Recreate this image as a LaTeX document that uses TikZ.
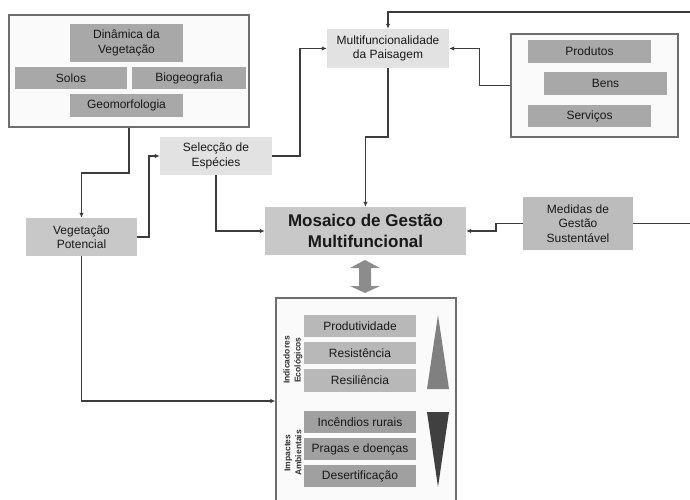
\documentclass[tikz,border=0pt]{standalone}
\usepackage{fontspec}
\setmainfont{Liberation Sans}
\usetikzlibrary{arrows.meta,positioning,calc}
\definecolor{boxlight}{HTML}{E2E2E2}
\definecolor{boxmid}{HTML}{C8C8C8}
\definecolor{boxdark}{HTML}{A8A8A8}
\definecolor{impgray}{HTML}{A0A0A0}
\definecolor{linegray}{HTML}{3C3C3C}
\definecolor{framegray}{HTML}{6E6E6E}

\begin{document}
\begin{tikzpicture}[x=1pt, y=-1pt,
      blk/.style={fill=boxmid, inner sep=1pt, align=center,
                  font=\fontsize{12}{14.5}\selectfont, text=black!90},
      lbox/.style={blk, fill=boxlight},
      dbox/.style={blk, fill=boxdark},
      ind/.style={blk, fill=boxmid!92!black, minimum width=112, minimum height=22},
      imp/.style={ind, fill=impgray},
      frame/.style={draw=framegray, fill=black!2, line width=1.2pt},
      vlbl/.style={rotate=90, align=center, font=\fontsize{8.5}{11}\selectfont\bfseries, text=black!80},
      arr/.style={-{Latex[length=5pt,width=4.5pt]}, linegray, line width=1.8pt},
      ln/.style={linegray, line width=1.8pt}]
    \useasboundingbox (0,0) rectangle (690,499);
    % factores do meio
    \node[frame, minimum width=240, minimum height=112] (veg) at (129,71) {};
    \node[dbox, minimum width=113, minimum height=38] (din) at (126.5,43) {Dinâmica da\\Vegetação};
    \node[dbox, minimum width=112, minimum height=22] (solos) at (71,78) {Solos};
    \node[dbox, minimum width=114, minimum height=22] (bio) at (189,78) {Biogeografia};
    \node[dbox, minimum width=113, minimum height=23] (geo) at (126.5,105.5) {Geomorfologia};
    % produtos, bens, servicos
    \node[frame, minimum width=167, minimum height=103] (pbs) at (594.5,85.5) {};
    \node[dbox, minimum width=123, minimum height=23] (prod) at (589.5,51.5) {Produtos};
    \node[dbox, minimum width=123, minimum height=23] (bens) at (605.5,83.5) {Bens};
    \node[dbox, minimum width=123, minimum height=22] (serv) at (589.5,116) {Serviços};
    % blocos centrais
    \node[blk, minimum width=111, minimum height=38] (vp) at (81.5,237) {Vegetação\\Potencial};
    \node[lbox, minimum width=112, minimum height=38] (sel) at (216,156) {Selecção de\\Espécies};
    \node[lbox, minimum width=122, minimum height=39] (multi) at (388,48.5) {Multifuncionalidade\\da Paisagem};
    \node[blk, minimum width=201, minimum height=48, font=\fontsize{17}{21}\selectfont\bfseries] (mos) at (365.5,231) {Mosaico de Gestão\\Multifuncional};
    \node[blk, fill=boxmid!94!black, minimum width=110, minimum height=53] (med) at (578,223.5) {Medidas de\\Gestão\\Sustentável};
    % indicadores e impactes
    \node[frame, minimum width=180, minimum height=206] (res) at (366,401) {};
    \node[ind] (prd) at (360,326) {Produtividade};
    \node[ind] (rst) at (360,353) {Resistência};
    \node[ind, minimum height=23] (rsl) at (360,380) {Resiliência};
    \node[imp] (inc) at (360,422) {Incêndios rurais};
    \node[imp] (prg) at (360,449) {Pragas e doenças};
    \node[imp] (des) at (360,476) {Desertificação};
    \node[vlbl] (indl) at (293,360) {Indicadores\\Ecológicos};
    \node[vlbl] (impl) at (293,453) {Impactes\\Ambientais};
    \fill[black!50] (438,315) -- (449,389) -- (427,389) -- cycle;
    \fill[black!75] (427,412) -- (449,412) -- (438,487) -- cycle;
    \fill[black!45] (365,260) -- (380,268) -- (371,268) -- (371,286) -- (380,286) -- (365,293)
      -- (350,286) -- (359,286) -- (359,268) -- (350,268) -- cycle;
    % ligacoes
    \coordinate (topin) at (690,12);
    \coordinate (medout) at (690,223.5);
    \draw[arr] (veg.south) -- ++(0,45) -| (vp.north);
    \draw[arr] (vp.east) -- ++(12,0) |- (sel.west);
    \draw[arr] (sel.east) -- ++(28,0) |- (multi.west);
    \draw[arr] (sel.south) |- (mos.west);
    \draw[arr] (multi.south) -- ++(0,69) -| (mos.north);
    \draw[arr] (topin) -| (multi.north);
    \draw[arr] (pbs.west) -- ++(-31,0) |- (multi.east);
    \draw[arr] (med.west) -- ++(-27,0) |- (mos.east);
    \draw[ln] (med.east) -- (medout);
    \draw[arr] (vp.south) |- (res.west);
  \end{tikzpicture}
\end{document}
